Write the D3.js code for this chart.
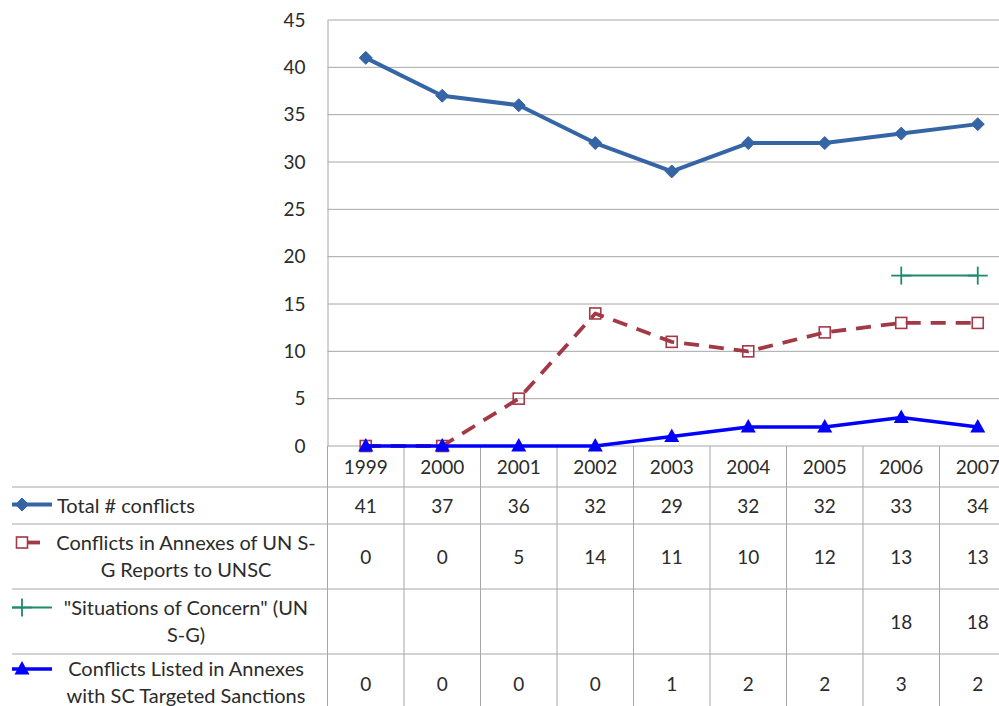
<!DOCTYPE html>
<html>
<head>
<meta charset="utf-8">
<script src="https://cdn.jsdelivr.net/npm/d3@7"></script>
<style>
  html, body { margin: 0; padding: 0; background: #fff; overflow: hidden; }
  svg { display: block; font-family: Lato, "Open Sans", sans-serif; }
</style>
</head>
<body>
<svg id="chart" width="999" height="706"></svg>
<script>
// Conflict counts per year
const years = ["1999", "2000", "2001", "2002", "2003", "2004", "2005", "2006", "2007"];
const totalConflicts = [41, 37, 36, 32, 29, 32, 32, 33, 34];
const annexConflicts = [0, 0, 5, 14, 11, 10, 12, 13, 13];
const situationsOfConcern = [null, null, null, null, null, null, null, 18, 18];
const sanctionConflicts = [0, 0, 0, 0, 1, 2, 2, 3, 2];
const yTicks = [0, 5, 10, 15, 20, 25, 30, 35, 40, 45];

const seriesNames = [
  ["Total # conflicts"],
  ["Conflicts in Annexes of UN S-", "G Reports to UNSC"],
  ["\"Situations of Concern\" (UN", "S-G)"],
  ["Conflicts Listed in Annexes", "with SC Targeted Sanctions"]
];

const series = [
  { values: totalConflicts, color: "#3565a5", width: 4, dash: null, marker: "diamond" },
  { values: annexConflicts, color: "#a23947", width: 3.8, dash: "15,10", marker: "square" },
  { values: situationsOfConcern, color: "#1f8a6e", width: 2, dash: null, marker: "plus" },
  { values: sanctionConflicts, color: "#0000ff", width: 3.5, dash: null, marker: "triangle" }
];

const svg = d3.select("#chart");
const plotLeft = 327.5, plotTop = 20, plotBottom = 446;
const colW = 76.5;
const plotRight = plotLeft + colW * years.length;
const tableLeft = 12;
const rowLines = [446, 487, 524, 589, 654];
const rowBottom = 720;
const gridColor = "#a6a6a6";
const textColor = "#2b2b2b";
const fontSize = 20;

const x = d3.scaleBand().domain(years).range([plotLeft, plotRight]);
const y = d3.scaleLinear().domain([0, 45]).range([plotBottom, plotTop]);
const cx = d => x(d) + x.bandwidth() / 2;

// Horizontal gridlines
svg.append("g").selectAll("line").data(yTicks.filter(t => t > 0)).join("line")
  .attr("x1", plotLeft).attr("x2", plotRight)
  .attr("y1", d => y(d)).attr("y2", d => y(d))
  .attr("stroke", gridColor).attr("stroke-width", 1);

// Value axis
const yAxis = svg.append("g")
  .attr("transform", `translate(${plotLeft},0)`)
  .call(d3.axisLeft(y).tickValues(yTicks).tickSize(0).tickPadding(22));
yAxis.select(".domain").attr("stroke", gridColor);
yAxis.selectAll("text").attr("font-size", 19).attr("fill", textColor)
  .attr("font-family", "Lato, sans-serif");

// Data table grid
const table = svg.append("g");
table.append("line").attr("x1", plotLeft).attr("x2", plotRight)
  .attr("y1", rowLines[0]).attr("y2", rowLines[0]).attr("stroke", gridColor);
table.selectAll("line.row").data(rowLines.slice(1)).join("line").attr("class", "row")
  .attr("x1", tableLeft).attr("x2", plotRight)
  .attr("y1", d => d).attr("y2", d => d).attr("stroke", gridColor);
table.selectAll("line.col").data(years).join("line").attr("class", "col")
  .attr("x1", d => x(d)).attr("x2", d => x(d))
  .attr("y1", rowLines[0]).attr("y2", rowBottom).attr("stroke", gridColor);
table.append("line").attr("x1", plotRight).attr("x2", plotRight)
  .attr("y1", plotTop).attr("y2", rowBottom).attr("stroke", gridColor);

// Category labels in table header row
table.selectAll("text.year").data(years).join("text").attr("class", "year")
  .attr("x", d => cx(d)).attr("y", (rowLines[0] + rowLines[1]) / 2)
  .attr("text-anchor", "middle").attr("dominant-baseline", "central")
  .attr("font-size", 19).attr("fill", textColor).text(d => d);

// Table value cells and legend keys
const rowTops = [rowLines[1], rowLines[2], rowLines[3], rowLines[4]];
const rowBots = [rowLines[2], rowLines[3], rowLines[4], 712];

function drawMarker(g, type, color, px, py) {
  if (type === "diamond") {
    g.append("path").attr("d", `M${px},${py - 6.5}L${px + 6.5},${py}L${px},${py + 6.5}L${px - 6.5},${py}Z`)
      .attr("fill", color).attr("stroke", color).attr("stroke-width", 1);
  } else if (type === "square") {
    g.append("rect").attr("x", px - 5.5).attr("y", py - 5.5).attr("width", 11).attr("height", 11)
      .attr("fill", "none").attr("stroke", color).attr("stroke-width", 1.6);
  } else if (type === "plus") {
    g.append("line").attr("x1", px).attr("x2", px).attr("y1", py - 9).attr("y2", py + 9)
      .attr("stroke", color).attr("stroke-width", 1.8);
    g.append("line").attr("x1", px - 10).attr("x2", px + 10).attr("y1", py).attr("y2", py)
      .attr("stroke", color).attr("stroke-width", 1.8);
  } else if (type === "triangle") {
    g.append("path").attr("d", `M${px},${py - 8}L${px + 7.5},${py + 5.5}L${px - 7.5},${py + 5.5}Z`)
      .attr("fill", color);
  }
}

series.forEach((s, i) => {
  const top = rowTops[i], bot = rowBots[i];
  const mid = (top + bot) / 2;
  const lines = seriesNames[i];
  // legend key
  const key = svg.append("g");
  const ky = lines.length === 1 ? mid - 1 : mid - 14;
  if (s.dash) {
    key.append("line").attr("x1", 27).attr("x2", 40).attr("y1", ky).attr("y2", ky)
      .attr("stroke", s.color).attr("stroke-width", s.width);
  } else {
    key.append("line").attr("x1", tableLeft).attr("x2", 52).attr("y1", ky).attr("y2", ky)
      .attr("stroke", s.color).attr("stroke-width", s.width);
  }
  drawMarker(key, s.marker, s.color, 22, ky);
  // series name
  const t = svg.append("text").attr("font-size", fontSize).attr("fill", textColor);
  if (lines.length === 1) {
    t.attr("x", 57).attr("y", mid - 1).attr("dominant-baseline", "central").text(lines[0]);
  } else {
    lines.forEach((ln, j) => {
      t.append("tspan").attr("x", 186).attr("text-anchor", "middle")
        .attr("y", mid + (j === 0 ? -15 : 12)).attr("dominant-baseline", "central").text(ln);
    });
  }
  // values
  svg.append("g").selectAll("text").data(years.map((yr, k) => [yr, s.values[k]]).filter(d => d[1] !== null))
    .join("text")
    .attr("x", d => cx(d[0])).attr("y", mid).attr("text-anchor", "middle")
    .attr("dominant-baseline", "central").attr("font-size", 19).attr("fill", textColor)
    .text(d => d[1]);
});

// Series lines and markers
series.forEach(s => {
  const pts = years.map((yr, k) => [yr, s.values[k]]).filter(d => d[1] !== null);
  const line = d3.line().x(d => cx(d[0])).y(d => y(d[1]));
  svg.append("path").datum(pts).attr("d", line)
    .attr("fill", "none").attr("stroke", s.color).attr("stroke-width", s.width)
    .attr("stroke-dasharray", s.dash).attr("stroke-linejoin", "round");
  const g = svg.append("g");
  pts.forEach(d => drawMarker(g, s.marker, s.color, cx(d[0]), y(d[1])));
});
</script>
</body>
</html>
